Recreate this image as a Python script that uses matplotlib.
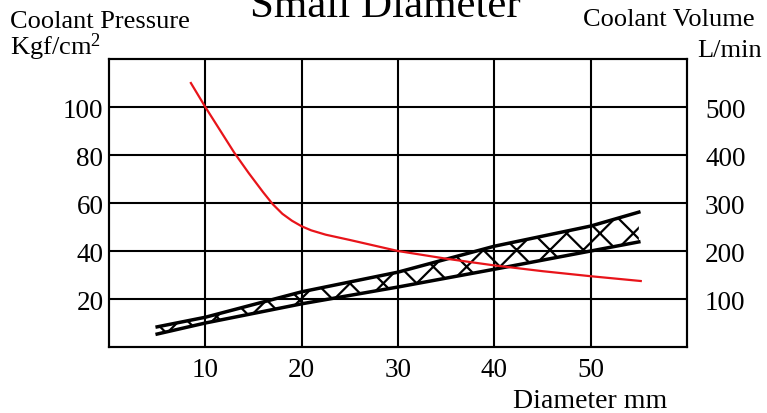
import matplotlib.pyplot as plt
import numpy as np

plt.rcParams['font.family'] = ['Liberation Serif', 'DejaVu Serif']
plt.rcParams['mathtext.fontset'] = 'custom'
plt.rcParams['mathtext.rm'] = 'Liberation Serif'
plt.rcParams['mathtext.it'] = 'Liberation Serif:italic'
plt.rcParams['hatch.linewidth'] = 1.6

# pressure curve (left axis, Kgf/cm2)
press_d = [8.5, 10, 11.5, 13, 14.5, 16, 17, 18, 19, 20, 21, 22.5, 25, 27.5,
           30, 35, 40, 45, 50, 55.2]
press_v = [110, 100, 90.5, 81, 72.5, 64.5, 59.5, 55.5, 52.6, 50.3, 48.6, 46.8,
           44.6, 42.3, 40, 36.8, 34, 31.6, 29.5, 27.5]

# coolant volume band (right axis, L/min)
vol_d = [5, 10, 20, 30, 40, 50, 55]
vol_low = [27, 50, 90, 125, 162, 200, 219]
vol_high = [42, 62, 115, 156, 210, 252, 281]

x_ticks = [10, 20, 30, 40, 50]
left_ticks = [20, 40, 60, 80, 100]
right_ticks = [100, 200, 300, 400, 500]

fig = plt.figure(figsize=(7.67, 4.14), dpi=100)
ax = fig.add_axes([0.1421, 0.1594, 0.7536, 0.6956])
ax2 = ax.twinx()

ax.set_xlim(0, 60)
ax.set_ylim(0, 120)
ax2.set_ylim(0, 600)

ax.set_xticks(x_ticks)
ax.set_yticks(left_ticks)
ax2.set_yticks(right_ticks)
ax.grid(True, color='black', linewidth=1.5)
ax.tick_params(axis='x', length=0, labelsize=19.5, pad=7)
ax.tick_params(axis='y', length=0, labelsize=19.5, pad=4)
ax2.tick_params(length=0, labelsize=19.5, pad=13)
for a in (ax, ax2):
    for s in a.spines.values():
        s.set_linewidth(1.5)

ax2.fill_between(vol_d, vol_low, vol_high, facecolor='none', edgecolor='black',
                 hatch='x', linewidth=0)
ax2.plot(vol_d, vol_low, color='black', linewidth=2.5)
ax2.plot(vol_d, vol_high, color='black', linewidth=2.5)

ax.plot(press_d, press_v, color='#e8141a', linewidth=1.6, zorder=5)
ax.set_zorder(ax2.get_zorder() + 1)
ax.patch.set_visible(False)

fig.text(0.502, 0.959, 'Small Diameter', fontsize=31, ha='center', va='baseline')
fig.text(0.013, 0.932, 'Coolant Pressure', fontsize=19, ha='left', va='baseline')
fig.text(0.013, 0.867, 'Kgf/cm$^2$', fontsize=19, ha='left', va='baseline')
fig.text(0.984, 0.937, 'Coolant Volume', fontsize=19, ha='right', va='baseline')
fig.text(0.993, 0.862, 'L/min', fontsize=19, ha='right', va='baseline')
fig.text(0.769, 0.0145, 'Diameter mm', fontsize=20, ha='center', va='baseline')

fig.savefig('out.png', dpi=100)
